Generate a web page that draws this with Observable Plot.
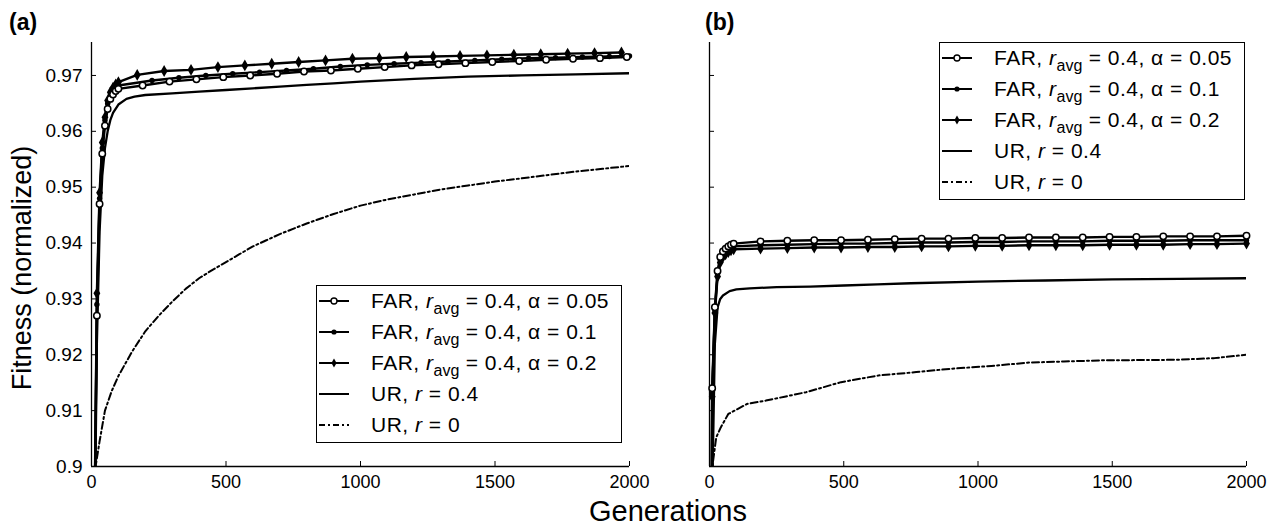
<!DOCTYPE html>
<html><head><meta charset="utf-8">
<script src="https://cdn.jsdelivr.net/npm/d3@7"></script>
<script src="https://cdn.jsdelivr.net/npm/@observablehq/plot@0.6"></script>
<style>
body{margin:0;background:#fff;}
#root{position:relative;width:1277px;height:529px;overflow:hidden;font-family:"Liberation Sans",Arial,Helvetica,sans-serif;color:#000;background:#fff;}
.panel{position:absolute;top:0;}
.lab{position:absolute;white-space:nowrap;line-height:1;}
.legend{position:absolute;border:1.5px solid #000;background:#fff;box-sizing:border-box;width:306px;height:158px;}
.row{position:absolute;left:0;height:30px;display:flex;align-items:center;font-size:21px;letter-spacing:0.5px;white-space:nowrap;}
.row svg{margin-left:1px;margin-right:21px;}
.row sub{font-size:16px;vertical-align:-6px;line-height:0;letter-spacing:0;}
</style></head>
<body><div id="root"></div>
<script>
// ---------- axis ticks ----------
const xTicks = [0, 500, 1000, 1500, 2000];
const yTicks = [0.9, 0.91, 0.92, 0.93, 0.94, 0.95, 0.96, 0.97];
const yTop = 0.9759;

// ---------- legend labels ----------
const seriesNames = ["FAR α=0.05", "FAR α=0.1", "FAR α=0.2", "UR r=0.4", "UR r=0"];

// ---------- panel (a) ----------
const aGenFar05 = [0,10,20,30,40,50,60,70,80,90,100,190,290,390,490,590,690,790,890,990,1090,1190,1290,1390,1490,1590,1690,1790,1890,1990];
const aFar05 = [0.80,0.883,0.927,0.947,0.956,0.961,0.964,0.9658,0.9666,0.9672,0.9676,0.9682,0.9689,0.9693,0.9697,0.9700,0.9703,0.9707,0.9709,0.9712,0.9715,0.9718,0.9720,0.9722,0.9724,0.9726,0.9728,0.9730,0.9731,0.9733];
const aGenFar10 = [0,10,20,30,40,50,60,70,80,90,100,225,325,425,525,625,725,825,925,1025,1125,1225,1325,1425,1525,1625,1725,1825,1925,2000];
const aFar10 = [0.80,0.884,0.929,0.948,0.957,0.962,0.965,0.9665,0.9673,0.9678,0.9682,0.9691,0.9696,0.9700,0.9703,0.9706,0.9709,0.9712,0.9716,0.9719,0.9721,0.9723,0.9725,0.9727,0.9729,0.9731,0.9732,0.9733,0.9734,0.9735];
const aGenFar20 = [0,10,20,30,40,50,60,70,80,90,100,170,270,370,470,570,670,770,870,970,1070,1170,1270,1370,1470,1570,1670,1770,1870,1970];
const aFar20 = [0.80,0.885,0.931,0.949,0.958,0.9625,0.9655,0.967,0.9678,0.9684,0.9688,0.9701,0.9708,0.9710,0.9715,0.9718,0.9721,0.9724,0.9727,0.9730,0.9731,0.9733,0.9734,0.9735,0.9736,0.9737,0.9738,0.9739,0.9740,0.9741];
const aGenUR04 = [0,10,20,30,40,50,60,70,80,100,130,160,200,300,400,500,600,700,800,900,1000,1200,1400,1600,1800,2000];
const aUR04 = [0.80,0.88,0.922,0.942,0.952,0.957,0.960,0.962,0.9633,0.9648,0.9658,0.9662,0.9665,0.9668,0.9671,0.9674,0.9677,0.9680,0.9683,0.9686,0.9689,0.9694,0.9698,0.9700,0.9702,0.9704];
const aGenUR0 = [0,12,30,50,75,100,150,200,250,300,350,400,450,500,550,600,650,700,800,900,1000,1100,1200,1300,1400,1500,1600,1700,1800,1900,2000];
const aUR0 = [0.88,0.899,0.9045,0.9100,0.9135,0.9162,0.9205,0.9242,0.9270,0.9295,0.9318,0.9337,0.9352,0.9366,0.9380,0.9394,0.9405,0.9416,0.9435,0.9452,0.9467,0.9478,0.9487,0.9496,0.9503,0.9510,0.9516,0.9522,0.9528,0.9533,0.9538];

// ---------- panel (b) ----------
const bGenFar = [0,10,20,30,40,50,60,70,80,90,190,290,390,490,590,690,790,890,990,1090,1190,1290,1390,1490,1590,1690,1790,1890,2000];
const bFar05 = [0.80,0.914,0.9285,0.935,0.9375,0.9385,0.939,0.9394,0.9397,0.9399,0.9403,0.9404,0.9405,0.9405,0.9406,0.9407,0.9408,0.9408,0.9409,0.9409,0.9410,0.9410,0.9410,0.9411,0.9411,0.9412,0.9412,0.9412,0.9413];
const bFar10 = [0.80,0.913,0.928,0.9345,0.937,0.938,0.9386,0.939,0.9392,0.9394,0.9396,0.9397,0.9398,0.9399,0.9399,0.9400,0.9401,0.9401,0.9402,0.9402,0.9403,0.9403,0.9403,0.9404,0.9404,0.9404,0.9405,0.9405,0.9405];
const bFar20 = [0.80,0.9125,0.9275,0.934,0.9365,0.9375,0.938,0.9384,0.9387,0.9389,0.9390,0.9391,0.9392,0.9392,0.9393,0.9393,0.9394,0.9394,0.9395,0.9395,0.9396,0.9396,0.9396,0.9397,0.9397,0.9397,0.9398,0.9398,0.9399];
const bGenUR04 = [0,10,20,30,40,50,75,100,150,250,375,500,625,750,1000,1250,1500,1750,2000];
const bUR04 = [0.80,0.895,0.922,0.9285,0.9300,0.9306,0.9314,0.9317,0.9319,0.9321,0.9322,0.9324,0.9326,0.9328,0.9331,0.9333,0.9335,0.9336,0.9337];
const bGenUR0 = [0,12,25,42,70,140,210,280,360,490,630,770,900,1050,1190,1320,1460,1740,1880,2000];
const bUR0 = [0.85,0.9005,0.9052,0.907,0.9094,0.9112,0.9118,0.9125,0.9133,0.9151,0.9163,0.9169,0.9175,0.918,0.9186,0.9188,0.919,0.9191,0.9194,0.920];

const zip = (g, v) => g.map((x, i) => ({g: x, v: v[i]}));
const FONT = '"Liberation Sans", Arial, Helvetica, sans-serif';
const H = 529, MT = 42, MB = 63;

function panel(opt) {
  const innerW = opt.width - opt.ml - opt.mr;
  const innerH = H - MT - MB;
  const f05 = zip(opt.g05, opt.v05), f10 = zip(opt.g10, opt.v10), f20 = zip(opt.g20, opt.v20);
  const u4 = zip(opt.gu4, opt.vu4), u0 = zip(opt.gu0, opt.vu0);
  const vis = d => d.v >= 0.9;
  const marks = [
    Plot.ruleX([0], {stroke: "#000", strokeWidth: 1.3}),
    Plot.ruleY([0.9], {stroke: "#000", strokeWidth: 1.3}),
    Plot.tickY(yTicks, {y: d => d, stroke: "#000", insetRight: innerW - 5}),
    Plot.tickX(xTicks, {x: d => d, stroke: "#000", insetTop: innerH - 5}),
    Plot.axisX({ticks: xTicks, tickSize: 0, tickPadding: 9, fontSize: 18, label: null, tickFormat: d => String(d)}),
    Plot.line(u0, {x: "g", y: "v", stroke: "#000", strokeWidth: 2, strokeDasharray: "7,3,2,3", clip: true}),
    Plot.line(u4, {x: "g", y: "v", stroke: "#000", strokeWidth: 2.3, clip: true}),
    Plot.line(f05, {x: "g", y: "v", stroke: "#000", strokeWidth: 2.4, clip: true}),
    Plot.line(f10, {x: "g", y: "v", stroke: "#000", strokeWidth: 2.4, clip: true}),
    Plot.line(f20, {x: "g", y: "v", stroke: "#000", strokeWidth: 2.4, clip: true}),
    Plot.dot(f10, {x: "g", y: "v", filter: vis, r: 2.7, fill: "#000"}),
    Plot.dot(f20, {x: "g", y: "v", filter: vis, symbol: "diamond", r: 3.6, fill: "#000"}),
    Plot.dot(f05, {x: "g", y: "v", filter: vis, r: 3.2, fill: "#fff", stroke: "#000", strokeWidth: 1.5})
  ];
  if (opt.labels) {
    marks.push(Plot.axisY({ticks: yTicks, tickSize: 0, tickPadding: 9, fontSize: 19, label: null,
      tickFormat: d => d === 0.9 ? "0.9" : d.toFixed(2)}));
  }
  return Plot.plot({
    width: opt.width, height: H,
    marginLeft: opt.ml, marginRight: opt.mr, marginTop: MT, marginBottom: MB,
    x: {domain: [0, 2000], axis: null},
    y: {domain: [0.9, yTop], axis: null},
    style: {fontFamily: FONT, background: "transparent", color: "#000", overflow: "visible"},
    marks
  });
}

const root = document.getElementById("root");

const pa = panel({width: 640, ml: 91, mr: 11, labels: true,
  g05: aGenFar05, v05: aFar05, g10: aGenFar10, v10: aFar10, g20: aGenFar20, v20: aFar20,
  gu4: aGenUR04, vu4: aUR04, gu0: aGenUR0, vu0: aUR0});
pa.classList.add("panel"); pa.style.left = "0px";
root.appendChild(pa);

const pb = panel({width: 637, ml: 69, mr: 31, labels: false,
  g05: bGenFar, v05: bFar05, g10: bGenFar, v10: bFar10, g20: bGenFar, v20: bFar20,
  gu4: bGenUR04, vu4: bUR04, gu0: bGenUR0, vu0: bUR0});
pb.classList.add("panel"); pb.style.left = "640px";
root.appendChild(pb);

// ---------- text labels ----------
function label(html, css) {
  const d = document.createElement("div");
  d.className = "lab"; d.innerHTML = html;
  Object.assign(d.style, css);
  root.appendChild(d);
  return d;
}
label("(a)", {left: "9px", top: "11px", fontSize: "23px", fontWeight: "bold"});
label("(b)", {left: "705px", top: "11px", fontSize: "23px", fontWeight: "bold"});
label("Fitness (normalized)", {left: "22px", top: "268px", fontSize: "27px", transform: "translate(-50%,-50%) rotate(-90deg)"});
label("Generations", {left: "668px", top: "511px", fontSize: "29px", transform: "translate(-50%,-50%)"});

// ---------- legends ----------
function symbol(kind) {
  let m = "";
  if (kind === 0) m = '<circle cx="16" cy="7" r="3" fill="#fff" stroke="#000" stroke-width="1.4"/>';
  if (kind === 1) m = '<circle cx="16" cy="7" r="2.6" fill="#000"/>';
  if (kind === 2) m = '<path d="M16 2.5 L18.6 7 L16 11.5 L13.4 7 Z" fill="#000"/>';
  const dash = kind === 4 ? ' stroke-dasharray="6,3,2,3"' : "";
  return `<svg width="32" height="14" viewBox="0 0 32 14"><line x1="1" y1="7" x2="31" y2="7" stroke="#000" stroke-width="2"${dash}/>${m}</svg>`;
}
const legendText = [
  'FAR, <i>r</i><sub>avg</sub> = 0.4, α = 0.05',
  'FAR, <i>r</i><sub>avg</sub> = 0.4, α = 0.1',
  'FAR, <i>r</i><sub>avg</sub> = 0.4, α = 0.2',
  'UR, <i>r</i> = 0.4',
  'UR, <i>r</i> = 0'
];
function legend(left, top) {
  const box = document.createElement("div");
  box.className = "legend";
  box.style.left = left + "px"; box.style.top = top + "px";
  legendText.forEach((t, i) => {
    const r = document.createElement("div");
    r.className = "row";
    r.style.top = (0 + 31 * i) + "px";
    r.title = seriesNames[i];
    r.innerHTML = symbol(i) + "<span>" + t + "</span>";
    box.appendChild(r);
  });
  root.appendChild(box);
}
legend(316, 285);
legend(939, 42);
</script>
</body></html>
